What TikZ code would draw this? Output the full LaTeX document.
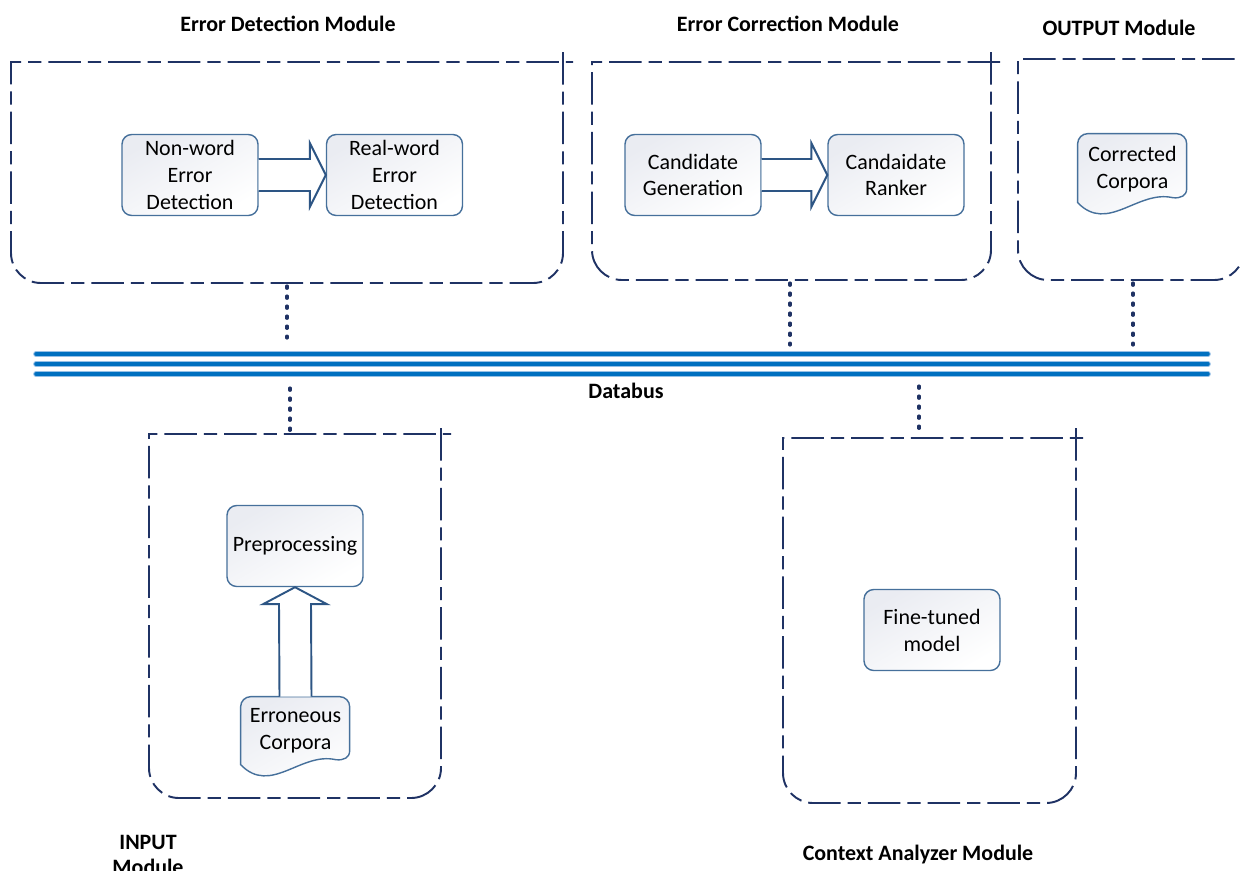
\documentclass[tikz,border=0pt]{standalone}
\usepackage{fontspec}
\setmainfont{Carlito}
\usetikzlibrary{calc}
\definecolor{navy}{RGB}{31,50,100}
\definecolor{nodeb}{RGB}{70,112,155}
\definecolor{arrowb}{RGB}{45,85,132}
\definecolor{busc}{RGB}{0,112,192}
\definecolor{busl}{RGB}{150,192,230}
\definecolor{shadetop}{RGB}{234,236,242}
\begin{document}
\begin{tikzpicture}[x=0.02cm,y=-0.02cm,
  modbox/.style={draw=navy, line width=1.1pt, dash pattern=on 18.5pt off 4pt on 7.5pt off 4pt},
  dotcon/.style={draw=navy, line width=1.8pt, line cap=round, dash pattern=on 1.3pt off 4.4pt},
  proc/.style={draw=nodeb, line width=0.8pt, rounded corners=5.5pt, minimum width=2.72cm,
    minimum height=1.62cm, inner sep=0pt, align=center, top color=shadetop, bottom color=white,
    shading angle=30, font=\fontsize{12.5}{15.3}\selectfont},
  doctext/.style={inner sep=0pt, minimum width=2.18cm, align=center,
    font=\fontsize{12.5}{15.3}\selectfont},
  docshape/.style={draw=nodeb, line width=0.8pt, top color=shadetop, bottom color=white, shading angle=30},
  blockarrow/.style={draw=arrowb, line width=1.1pt, fill=white, line join=miter},
  title/.style={font=\fontsize{12.5}{15}\selectfont\bfseries, inner sep=0pt, align=center},
  busdark/.style={draw=busc, line width=2pt, line cap=round},
  buslight/.style={draw=busl, line width=3.2pt, line cap=round}]
\fill[white] (0,0) rectangle (1240,870);
\useasboundingbox (0,0) rectangle (1240,870);

% titles
\node[title] (tED) at (288,24) {Error Detection Module};
\node[title] (tEC) at (788,24) {Error Correction Module};
\node[title] (tOUT) at (1119,28) {OUTPUT Module};
\node[title] (tBus) at (626,391) {Databus};
\node[title, text depth=0pt, font=\fontsize{12.5}{14}\selectfont\bfseries] (tIN) at (148,855) {INPUT\\Module};
\node[title] (tCTX) at (918,855) {Context Analyzer Module};

% module frames
\path[modbox] (563,52) -- (563,253) .. controls (563,269.5) and (549.5,283) .. (533,283)
  -- (41,283) .. controls (24.5,283) and (11,269.5) .. (11,253) -- (11,62) -- (573,62);
\path[modbox] (991,52) -- (991,250) .. controls (991,266.5) and (977.5,280) .. (961,280)
  -- (622,280) .. controls (605.5,280) and (592,266.5) .. (592,250) -- (592,62) -- (1001,62);
\path[modbox] (1244,49) -- (1244,250) .. controls (1244,266.5) and (1230.5,280) .. (1214,280)
  -- (1048,280) .. controls (1031.5,280) and (1018,266.5) .. (1018,250) -- (1018,59) -- (1254,59);
\path[modbox] (441,428) -- (441,768) .. controls (441,784.5) and (427.5,798) .. (411,798)
  -- (179,798) .. controls (162.5,798) and (149,784.5) .. (149,768) -- (149,434) -- (451,434);
\path[modbox] (1076,428) -- (1076,773) .. controls (1076,789.5) and (1062.5,803) .. (1046,803)
  -- (813,803) .. controls (796.5,803) and (783,789.5) .. (783,773) -- (783,438) -- (1086,438);

% databus
\coordinate (busA1) at (36,354); \coordinate (busB1) at (1208,354);
\coordinate (busA2) at (36,364); \coordinate (busB2) at (1208,364);
\coordinate (busA3) at (36,374); \coordinate (busB3) at (1208,374);
\foreach \i in {1,2,3} {\draw[buslight] (busA\i) -- (busB\i);}
\foreach \i in {1,2,3} {\draw[busdark] (busA\i) -- (busB\i);}

% dotted links to the bus
\coordinate (edB) at (287,286); \coordinate (edBus) at (287,338);
\coordinate (ecB) at (790,283); \coordinate (ecBus) at (790,345);
\coordinate (ouB) at (1133,283); \coordinate (ouBus) at (1133,345);
\coordinate (inBus) at (290,388); \coordinate (inT) at (290,431);
\coordinate (cxBus) at (919,386); \coordinate (cxT) at (919,435);
\draw[dotcon] (edB) -- (edBus);
\draw[dotcon] (ecB) -- (ecBus);
\draw[dotcon] (ouB) -- (ouBus);
\draw[dotcon] (inBus) -- (inT);
\draw[dotcon] (cxBus) -- (cxT);

% process nodes
\node[proc] (nw) at (190,175) {Non-word\\Error\\Detection};
\node[proc] (rw) at (394.5,175) {Real-word\\Error\\Detection};
\node[proc] (cg) at (693,175) {Candidate\\Generation};
\node[proc] (cr) at (896,175) {Candaidate\\Ranker};
\node[proc] (pp) at (295,546) {Preprocessing};
\node[proc] (ft) at (932,630) {Fine-tuned\\model};

% document nodes
\node[doctext, minimum height=1.4cm] (cc) at (1132.5,169) {};
\path[docshape, shift={(cc.north west)}] (0,69) -- (0,10) .. controls (0,4.5) and (4.5,0) .. (10,0)
  -- (99,0) .. controls (104.5,0) and (109,4.5) .. (109,10) -- (109,55)
  .. controls (109,62) and (103,65) .. (95,64) .. controls (60,56) and (30,100) .. (0,69) -- cycle;
\node[doctext, minimum height=1.4cm] at (cc) {Corrected\\Corpora};

\node[doctext, minimum height=1.36cm] (ec) at (295.5,731) {};
\path[docshape, shift={(ec.north west)}] (0,68) -- (0,10) .. controls (0,4.5) and (4.5,0) .. (10,0)
  -- (99,0) .. controls (104.5,0) and (109,4.5) .. (109,10) -- (109,54)
  .. controls (109,61) and (103,64) .. (95,63) .. controls (60,55) and (30,99) .. (0,68) -- cycle;
\node[doctext, minimum height=1.36cm] at (ec) {Erroneous\\Corpora};

% block arrows
\draw[blockarrow] ($(nw.east)+(0,-16)$) -- ($(rw.west)+(-16,-16)$) -- ($(rw.west)+(-16,-32)$)
  -- (rw.west) -- ($(rw.west)+(-16,32)$) -- ($(rw.west)+(-16,16)$) -- ($(nw.east)+(0,16)$);
\draw[blockarrow] ($(cg.east)+(0,-16)$) -- ($(cr.west)+(-16,-16)$) -- ($(cr.west)+(-16,-32)$)
  -- (cr.west) -- ($(cr.west)+(-16,32)$) -- ($(cr.west)+(-16,16)$) -- ($(cg.east)+(0,16)$);
\draw[blockarrow] ($(ec.north)+(-16,0)$) -- ($(pp.south)+(-16,17)$) -- ($(pp.south)+(-32,17)$)
  -- (pp.south) -- ($(pp.south)+(32,17)$) -- ($(pp.south)+(16,17)$) -- ($(ec.north)+(16,0)$);
\end{tikzpicture}
\end{document}
